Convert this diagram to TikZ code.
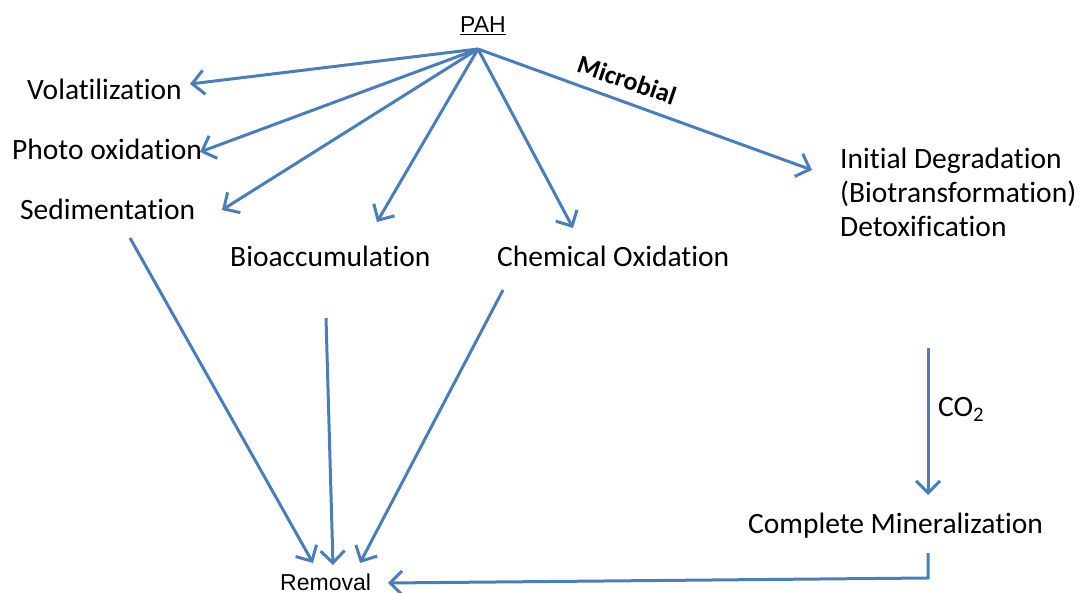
\documentclass[tikz,border=0pt]{standalone}
\usepackage{fontspec}
\setmainfont{Carlito}[Ligatures=NoCommon]
\newfontfamily\arialf{Liberation Sans}
\usetikzlibrary{arrows.meta}
\definecolor{lineblue}{HTML}{4A7EBB}
\begin{document}
\begin{tikzpicture}[x=1pt,y=-1pt,
  lbl/.style={anchor=base west,inner sep=0pt,font=\fontsize{29.5}{34}\selectfont},
  alb/.style={anchor=base west,inner sep=0pt,font=\arialf\fontsize{23}{28}\selectfont},
  conn/.style={draw=lineblue,line width=3pt,-{Straight Barb[length=12pt,width=24pt,line width=3pt]}}]
\useasboundingbox (0,0) rectangle (1079,593);
% labels
\node[alb] (pah) at (460,33) {\underline{PAH}};
\node[lbl] (vol) at (27,100) {Volatilization};
\node[lbl] (pho) at (12,160) {Photo oxidation};
\node[lbl] (sed) at (20,220) {Sedimentation};
\node[lbl] (bio) at (230,267) {Bioaccumulation};
\node[lbl] (che) at (497,267) {Chemical Oxidation};
\node[lbl] (ini) at (840,169) {Initial Degradation};
\node[lbl] (bt) at (840,203) {(Biotransformation)};
\node[lbl] (det) at (840,237) {Detoxification};
\node[lbl] (co) at (938,417) {CO\textsubscript{2}};
\node[lbl] (min) at (748,533) {Complete Mineralization};
\node[alb] (rem) at (280,590) {Removal};
\node[anchor=center,inner sep=0pt,rotate=-19,font=\bfseries\fontsize{26}{30}\selectfont] (mic) at (627,80) {Microbial};
% connector points
\coordinate (hub) at (478,49);
\coordinate (tVol) at (190,84);
\coordinate (tPho) at (200,152);
\coordinate (tSed) at (222,210);
\coordinate (tBio) at (377,222);
\coordinate (tChe) at (573,228);
\coordinate (tIni) at (812,170);
\coordinate (sSed) at (130,238);
\coordinate (eSed) at (313,563);
\coordinate (sBio) at (326,318);
\coordinate (eBio) at (333,565);
\coordinate (sChe) at (503,290);
\coordinate (eChe) at (360,563);
\coordinate (sIni) at (928,348);
\coordinate (eMin) at (928,495);
\coordinate (sMin) at (928,553);
\coordinate (cMin) at (928,578);
\coordinate (eRem) at (388,583);
% connectors
\draw[conn] (hub) -- (tVol);
\draw[conn] (hub) -- (tPho);
\draw[conn] (hub) -- (tSed);
\draw[conn] (hub) -- (tBio);
\draw[conn] (hub) -- (tChe);
\draw[conn] (hub) -- (tIni);
\draw[conn] (sSed) -- (eSed);
\draw[conn] (sBio) -- (eBio);
\draw[conn] (sChe) -- (eChe);
\draw[conn] (sIni) -- (eMin);
\draw[conn] (sMin) -- (cMin) -- (eRem);
\end{tikzpicture}
\end{document}
